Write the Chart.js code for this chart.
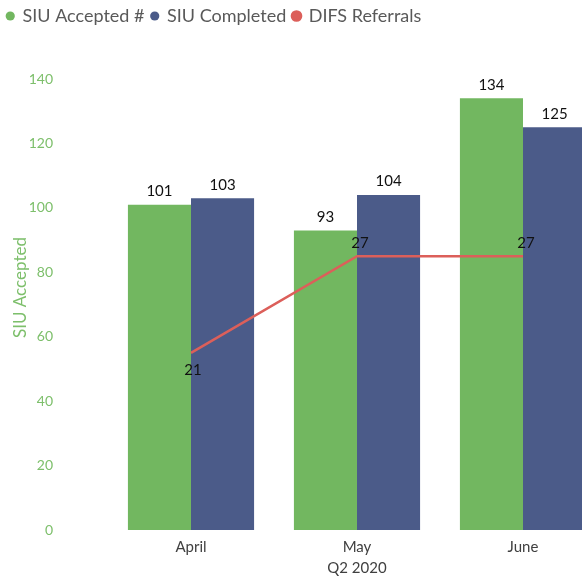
<!DOCTYPE html>
<html>
<head>
<meta charset="utf-8">
<script src="https://cdn.jsdelivr.net/npm/chart.js@4/dist/chart.umd.min.js"></script>
<style>
  html, body { margin: 0; padding: 0; background: #fff; }
  #wrap { width: 582px; height: 579px; overflow: hidden; position: relative; }
  #box { width: 606px; height: 579px; }
</style>
</head>
<body>
<div id="wrap"><div id="box"><canvas id="chart"></canvas></div></div>
<script>
// data
const months = ['April', 'May', 'June'];
const siuAccepted = [101, 93, 134];
const siuCompleted = [103, 104, 125];
const difsReferrals = [21, 27, 27];
const yTicks = [0, 20, 40, 60, 80, 100, 120, 140];

const GREEN = '#72b760';
const NAVY = '#4b5b89';
const RED = '#dc5f5a';
const AXIS_GREEN = '#7dbf6b';
const FONT = 'Lato, "Open Sans", sans-serif';

// numbers above the bars / next to the line points, plus the y axis title
const valueLabels = {
    id: 'valueLabels',
    afterDatasetsDraw(chart) {
        const ctx = chart.ctx;
        ctx.save();
        ctx.font = '15px ' + FONT;
        ctx.fillStyle = '#111';
        ctx.textAlign = 'center';
        chart.data.datasets.forEach((ds, i) => {
            const meta = chart.getDatasetMeta(i);
            meta.data.forEach((el, j) => {
                const v = ds.data[j];
                if (ds.type === 'line') {
                    if (j === 0) {
                        ctx.textBaseline = 'top';
                        ctx.fillText(v, el.x + 2, el.y + 10);
                    } else {
                        ctx.textBaseline = 'bottom';
                        ctx.fillText(v, el.x + 3, el.y - 6);
                    }
                } else {
                    ctx.textBaseline = 'bottom';
                    ctx.fillText(v, el.x, el.y - 6);
                }
            });
        });

        // y title sits a bit above the middle of the plot, like the original
        const area = chart.chartArea;
        ctx.translate(21, (area.top + area.bottom) / 2 - 17);
        ctx.rotate(-Math.PI / 2);
        ctx.font = '17px ' + FONT;
        ctx.fillStyle = AXIS_GREEN;
        ctx.textBaseline = 'middle';
        ctx.fillText('SIU Accepted', 0, 0);
        ctx.restore();
    }
};

new Chart(document.getElementById('chart'), {
    type: 'bar',
    data: {
        labels: months,
        datasets: [{
            label: 'SIU Accepted #',
            data: siuAccepted,
            backgroundColor: GREEN,
            categoryPercentage: 0.76,
            barPercentage: 1,
            order: 2
        }, {
            label: 'SIU Completed',
            data: siuCompleted,
            backgroundColor: NAVY,
            categoryPercentage: 0.76,
            barPercentage: 1,
            order: 2
        }, {
            type: 'line',
            label: 'DIFS Referrals',
            data: difsReferrals,
            borderColor: RED,
            backgroundColor: RED,
            borderWidth: 2.5,
            pointRadius: 0,
            fill: false,
            yAxisID: 'y2',
            order: 1
        }]
    },
    options: {
        responsive: true,
        maintainAspectRatio: false,
        animation: false,
        layout: { padding: { left: 0, right: 0, top: 0, bottom: 2 } },
        plugins: {
            legend: {
                position: 'top',
                align: 'start',
                labels: {
                    usePointStyle: true,
                    pointStyle: 'circle',
                    boxWidth: 6.5,
                    boxHeight: 6.5,
                    padding: 7,
                    color: '#595959',
                    font: { family: FONT, size: 18 },
                    sort: (a, b) => a.datasetIndex - b.datasetIndex
                }
            },
            // empty title used only as a gap between legend and plot
            title: {
                display: true,
                text: '',
                weight: 500,
                font: { size: 10 },
                padding: { top: 0, bottom: 32 }
            },
            tooltip: { enabled: false }
        },
        scales: {
            x: {
                grid: { display: false },
                border: { display: false },
                ticks: { color: '#404040', font: { family: FONT, size: 15 }, padding: 0 },
                title: {
                    display: true,
                    text: 'Q2 2020',
                    color: '#404040',
                    font: { family: FONT, size: 15 },
                    padding: { top: 0, bottom: 0 }
                },
                afterFit(scale) { scale.height = 47; }
            },
            y: {
                min: 0,
                max: 140,
                afterBuildTicks(scale) { scale.ticks = yTicks.map(v => ({ value: v })); },
                grid: { display: false },
                border: { display: false },
                ticks: { color: AXIS_GREEN, font: { family: FONT, size: 14 }, padding: 47 },
                afterFit(scale) {
                    scale.width = 108;
                    // tick padding is also added above and below; drop it
                    scale.paddingTop = 0;
                    scale.paddingBottom = 0;
                }
            },
            y2: {
                display: false,
                min: 10,
                max: 38
            }
        }
    },
    plugins: [valueLabels]
});
</script>
</body>
</html>
